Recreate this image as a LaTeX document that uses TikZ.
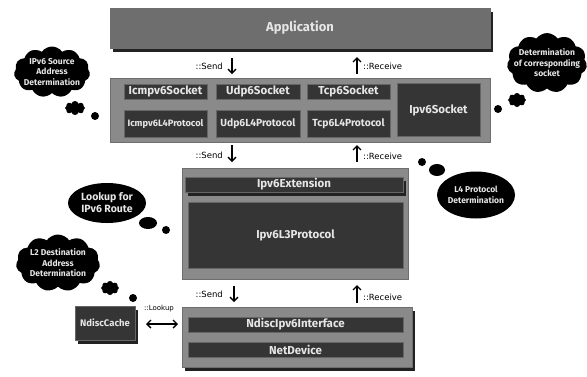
\documentclass[tikz,border=0pt]{standalone}
\usepackage{fontspec}
\setmainfont{Fira Sans}
\newfontfamily\labelfont{DejaVu Sans}
\usetikzlibrary{shapes.symbols,shapes.geometric,arrows.meta}
\definecolor{appgrey}{HTML}{6E6E6E}
\definecolor{layergrey}{HTML}{8A8A8A}
\definecolor{innerdark}{HTML}{353535}
\definecolor{edgedark}{HTML}{222222}
\definecolor{textlight}{HTML}{E6E6E6}
\begin{document}
\begin{tikzpicture}[x=1pt, y=-1pt]
\tikzstyle{every node} = [inner sep=0pt, font=\fontsize{11.5}{12}\selectfont\bfseries]
\tikzstyle{layer} = [rectangle, fill=layergrey, draw=layergrey!80!black, thin, preaction={fill=black!70, transform canvas={xshift=1.2pt, yshift=-1.2pt}}]
\tikzstyle{raised} = [preaction={fill=edgedark, transform canvas={xshift=2.5pt, yshift=-3.5pt}}]
\tikzstyle{inner} = [rectangle, fill=innerdark, text=textlight, draw=black!60, thin]
\tikzstyle{thought} = [fill=black, text=textlight, font=\fontsize{8.5}{10.5}\selectfont\bfseries, align=center, inner xsep=-14pt, inner ysep=-6pt]
\tikzstyle{puff} = [fill=black, ellipse]
\tikzstyle{flow} = [draw, line width=1.4pt, -{Straight Barb[length=4pt,width=8pt]}]
\tikzstyle{calllabel} = [font=\labelfont\fontsize{8.5}{9}\selectfont]
\useasboundingbox (0,0) rectangle (587,376);

\node[layer, raised, fill=appgrey, minimum width=380pt, minimum height=40pt, text=textlight, font=\fontsize{13}{14}\selectfont\bfseries] (app) at (300,28) {Application};

\node[layer, minimum width=380pt, minimum height=64pt] (sock) at (300,110) {};
\node[inner, minimum width=83pt, minimum height=15pt] (icmpsock) at (165.5,91.5) {Icmpv6Socket};
\node[inner, minimum width=84pt, minimum height=15pt] (udpsock) at (258,91.5) {Udp6Socket};
\node[inner, minimum width=83pt, minimum height=15pt] (tcpsock) at (348.5,91.5) {Tcp6Socket};
\node[inner, minimum width=83pt, minimum height=53pt] (ipvsock) at (438.5,110) {Ipv6Socket};
\node[inner, minimum width=83pt, minimum height=27pt, font=\fontsize{9.3}{10}\selectfont\bfseries] (icmpl4) at (165.5,123.5) {Icmpv6L4Protocol};
\node[inner, minimum width=84pt, minimum height=27pt, font=\fontsize{10.3}{11}\selectfont\bfseries] (udpl4) at (258,123.5) {Udp6L4Protocol};
\node[inner, minimum width=83pt, minimum height=27pt, font=\fontsize{10.3}{11}\selectfont\bfseries] (tcpl4) at (348.5,123.5) {Tcp6L4Protocol};

\node[layer, minimum width=226pt, minimum height=111pt] (l3box) at (295,223.5) {};
\node[inner, raised, minimum width=218pt, minimum height=15pt] (ext) at (294,184.5) {Ipv6Extension};
\node[inner, minimum width=215pt, minimum height=66pt] (l3) at (295.5,235) {Ipv6L3Protocol};

\node[layer, raised, minimum width=230pt, minimum height=60pt] (devbox) at (297,337) {};
\node[inner, minimum width=215pt, minimum height=15pt] (ndisc) at (295.5,324.5) {NdiscIpv6Interface};
\node[inner, minimum width=215pt, minimum height=15pt] (netdev) at (295.5,349.5) {NetDevice};

\node[inner, raised, minimum width=60pt, minimum height=34pt, font=\fontsize{9.5}{10}\selectfont\bfseries] (ndcache) at (105,323) {NdiscCache};

\coordinate (send1a) at (232,58);
\coordinate (send1b) at (232,74);
\coordinate (recv1a) at (357,74);
\coordinate (recv1b) at (357,57);
\coordinate (send2a) at (232,145);
\coordinate (send2b) at (232,162);
\coordinate (recv2a) at (357,162);
\coordinate (recv2b) at (357,145);
\coordinate (send3a) at (234,286);
\coordinate (send3b) at (234,302);
\coordinate (recv3a) at (357,303);
\coordinate (recv3b) at (357,285);
\coordinate (lookupa) at (146,324);
\coordinate (lookupb) at (178,324);

\path[flow] (send1a) -- (send1b);
\path[flow] (recv1a) -- (recv1b);
\path[flow] (send2a) -- (send2b);
\path[flow] (recv2a) -- (recv2b);
\path[flow] (send3a) -- (send3b);
\path[flow] (recv3a) -- (recv3b);
\path[flow, {Straight Barb[length=4pt,width=8pt]}-{Straight Barb[length=4pt,width=8pt]}] (lookupa) -- (lookupb);

\node[calllabel, anchor=east] (send1txt) at (223,66) {::Send};
\node[calllabel, anchor=west] (recv1txt) at (363,66) {::Receive};
\node[calllabel, anchor=east] (send2txt) at (223,155) {::Send};
\node[calllabel, anchor=west] (recv2txt) at (363,156) {::Receive};
\node[calllabel, anchor=east] (send3txt) at (223,294) {::Send};
\node[calllabel, anchor=west] (recv3txt) at (363,297) {::Receive};
\node[calllabel, font=\labelfont\fontsize{7}{8}\selectfont] (lookuptxt) at (159,309) {::Lookup};

\node[thought, cloud, cloud puffs=11, cloud puff arc=110, minimum width=76pt, minimum height=51pt] (srcaddr) at (52,72) {IPv6 Source\\Address\\Determination};
\node[puff, cloud, cloud puffs=8, minimum width=20pt, minimum height=14pt] (srcpuff1) at (75,108) {};
\node[puff, circle, minimum size=8pt] (srcpuff2) at (95,116) {};

\node[thought, cloud, cloud puffs=11, cloud puff arc=110, minimum width=80pt, minimum height=53pt] (corrsock) at (547,63) {Determination\\of corresponding\\socket};
\node[puff, cloud, cloud puffs=8, minimum width=18pt, minimum height=14pt] (corrpuff1) at (517,100) {};
\node[puff, circle, minimum size=8pt] (corrpuff2) at (498,109) {};

\node[thought, ellipse, minimum width=78pt, minimum height=47pt, inner xsep=-4pt] (l4det) at (476,195) {L4 Protocol\\Determination};
\node[puff, minimum width=16pt, minimum height=12pt] (l4puff1) at (437,170) {};
\node[puff, circle, minimum size=8pt] (l4puff2) at (422,162) {};

\node[thought, ellipse, minimum width=78pt, minimum height=40pt, inner xsep=-4pt, font=\fontsize{10.5}{12}\selectfont\bfseries] (route) at (107,203) {Lookup for\\IPv6 Route};
\node[puff, minimum width=18pt, minimum height=12pt] (routepuff1) at (148,223) {};
\node[puff, circle, minimum size=8pt] (routepuff2) at (166,230) {};

\node[thought, cloud, cloud puffs=11, cloud puff arc=110, minimum width=84pt, minimum height=57pt] (l2dest) at (58,263) {L2 Destination\\Address\\Determination};
\node[puff, cloud, cloud puffs=8, minimum width=18pt, minimum height=14pt] (l2puff1) at (110,288) {};
\node[puff, circle, minimum size=8pt] (l2puff2) at (133,298) {};
\end{tikzpicture}
\end{document}
